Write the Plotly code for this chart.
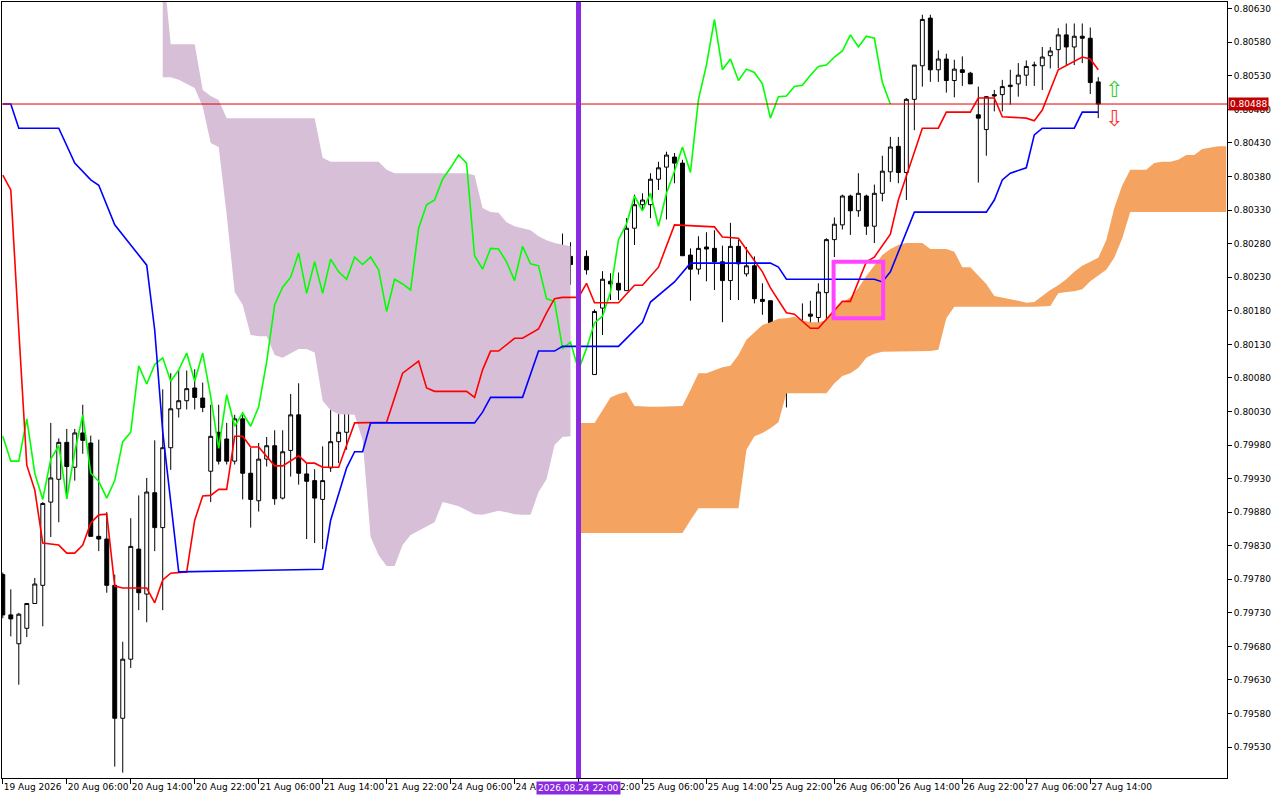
import plotly.graph_objects as go

# hourly bars, index 0 = 19 Aug 2026 22:00
opens = [
    .79787, .79727, .79684, .79707, .79744, .79771, .79895, .79929, .79984, .79947,
    .79998, .79983, .79844, .79840, .79771, .79573, .79661, .79825, .79758, .79909,
    .79857, .79976, .80034, .80046, .80065, .80050, .79941, .79999, .79989, .79956,
    .80019, .79938, .79897, .79959, .79979, .79901, .79972, .80025, .79937, .79927,
    .79899, .79946, .79985, .79999, .80097, .80071, .80100, .80110, .80075, .80090,
    .80137, .80073, .80117, .80055, .79977, .80013, .80008, .80028, .80008, .80038,
    .80103, .80188, .80215, .80231, .80268, .80206, .80253, .80206, .80257, .80237,
    .80227, .80261, .80249, .80261, .80085, .80184, .80224, .80221, .80210, .80303,
    .80338, .80338, .80376, .80394, .80409, .80400, .80263, .80242, .80275, .80273,
    .80253, .80225, .80276, .80235, .80247, .80197, .80195, .80124, .80071, .80077,
    .80126, .80175, .80170, .80207, .80286, .80308, .80351, .80329, .80351, .80306,
    .80355, .80387, .80425, .80386, .80495, .80545, .80616, .80539, .80555, .80523,
    .80539, .80534, .80472, .80450, .80502, .80502, .80514, .80518, .80531, .80545,
    .80545, .80560, .80569, .80591, .80573, .80589, .80586, .80521,
]
highs = [
    .79790, .79765, .79730, .79744, .79782, .79895, .80013, .79990, .80004, .80004,
    .80040, .79994, .79988, .79880, .79787, .79687, .79871, .79905, .79931, .79987,
    .80063, .80087, .80091, .80091, .80093, .80073, .80040, .80040, .80013, .80025,
    .80025, .79976, .79983, .79992, .80002, .80002, .80056, .80072, .79953, .79944,
    .79978, .80052, .80063, .80168, .80201, .80124, .80139, .80112, .80122, .80142,
    .80161, .80132, .80132, .80057, .80060, .80030, .80045, .80063, .80092, .80141,
    .80219, .80273, .80268, .80267, .80278, .80278, .80266, .80273, .80259, .80254,
    .80295, .80282, .80285, .80270, .80182, .80239, .80236, .80237, .80318, .80353,
    .80355, .80385, .80402, .80417, .80415, .80405, .80273, .80291, .80297, .80300,
    .80277, .80311, .80286, .80275, .80261, .80221, .80195, .80138, .80112, .80147,
    .80191, .80195, .80221, .80288, .80319, .80353, .80353, .80385, .80353, .80368,
    .80411, .80439, .80439, .80497, .80546, .80621, .80621, .80568, .80563, .80554,
    .80559, .80536, .80514, .80500, .80509, .80524, .80539, .80549, .80553, .80551,
    .80573, .80573, .80601, .80608, .80608, .80608, .80602, .80528,
]
lows = [
    .79722, .79695, .79623, .79694, .79744, .79710, .79843, .79865, .79900, .79927,
    .79967, .79843, .79822, .79760, .79501, .79492, .79648, .79734, .79716, .79822,
    .79734, .79943, .80021, .80033, .80033, .80029, .79895, .79951, .79951, .79951,
    .79899, .79857, .79881, .79948, .79891, .79899, .79933, .79921, .79840, .79834,
    .79825, .79940, .79953, .79973, .80055, .80056, .80084, .80072, .80067, .80067,
    .80057, .80057, .80052, .79968, .79960, .79980, .80005, .80005, .80008, .80025,
    .80067, .80166, .80197, .80196, .80107, .80147, .80164, .80164, .80186, .80181,
    .80219, .80219, .80235, .80234, .80085, .80144, .80196, .80196, .80210, .80278,
    .80330, .80318, .80360, .80316, .80370, .80262, .80195, .80234, .80224, .80211,
    .80163, .80196, .80196, .80231, .80191, .80174, .80112, .80075, .80036, .80077,
    .80126, .80146, .80153, .80161, .80260, .80301, .80293, .80320, .80293, .80281,
    .80343, .80372, .80370, .80345, .80449, .80514, .80521, .80521, .80505, .80498,
    .80515, .80518, .80371, .80411, .80477, .80477, .80487, .80499, .80515, .80515,
    .80509, .80541, .80541, .80546, .80546, .80549, .80503, .80467,
]
closes = [
    .79727, .79721, .79728, .79744, .79773, .79893, .79931, .79984, .79948, .79998,
    .79987, .79844, .79840, .79771, .79573, .79661, .79829, .79760, .79910, .79857,
    .79976, .80034, .80046, .80064, .80051, .80036, .79993, .79956, .79956, .80019,
    .79938, .79899, .79959, .79979, .79900, .79970, .80025, .79938, .79926, .79901,
    .79927, .79985, .79999, .80098, .80071, .80100, .80110, .80075, .80092, .80117,
    .80075, .80117, .80052, .79975, .80055, .80008, .80028, .80008, .80037, .80104,
    .80189, .80215, .80230, .80266, .80206, .80253, .80206, .80257, .80238, .80227,
    .80260, .80249, .80260, .80241, .80179, .80227, .80220, .80211, .80303, .80338,
    .80345, .80376, .80393, .80412, .80400, .80262, .80242, .80273, .80272, .80253,
    .80225, .80276, .80250, .80247, .80198, .80194, .80124, .80133, .80092, .80124,
    .80162, .80172, .80208, .80286, .80309, .80351, .80329, .80355, .80306, .80355,
    .80388, .80424, .80386, .80495, .80546, .80614, .80539, .80555, .80523, .80540,
    .80535, .80518, .80467, .80499, .80500, .80514, .80516, .80531, .80544, .80546,
    .80558, .80567, .80591, .80573, .80589, .80586, .80520, .80488,
]

# Tenkan-sen (red) vertices
tenkan_idx = [0, 1, 2, 3, 4, 5, 7, 8, 9, 10, 11, 12, 13, 14, 15, 18, 19, 20, 21, 23,
              24, 25, 26, 27, 28, 29, 30, 31, 32, 34, 35, 37, 38, 39, 40, 42, 44, 46, 48, 50,
              52, 53, 54, 58, 59, 60, 61, 62, 64, 65, 67, 68, 69, 70, 72, 73, 74, 77, 79, 80,
              82, 84, 89, 90, 92, 95, 96, 98, 99, 101, 102, 105, 106, 108, 109, 111, 112, 115, 117, 118,
              121, 122, 124, 125, 128, 129, 130, 132, 135, 136, 137]
tenkan_val = [.80382, .80360, .80151, .79950, .79913, .79834, .79831, .79819, .79819, .79831,
              .79864, .79876, .79877, .79770, .79767, .79767, .79745, .79779, .79789, .79791,
              .79868, .79904, .79905, .79914, .79914, .79993, .79993, .79977, .79977, .79949,
              .79949, .79964, .79953, .79953, .79947, .79947, .80013, .80013, .80014, .80087,
              .80105, .80065, .80060, .80060, .80051, .80092, .80120, .80120, .80139, .80139,
              .80153, .80177, .80198, .80200, .80200, .80221, .80192, .80192, .80218, .80218,
              .80245, .80308, .80305, .80290, .80288, .80238, .80214, .80177, .80175, .80154,
              .80154, .80194, .80194, .80253, .80260, .80294, .80345, .80452, .80452, .80476,
              .80476, .80497, .80497, .80469, .80467, .80463, .80479, .80539, .80558, .80555,
              .80539]

# Kijun-sen (blue) vertices
kijun_idx = [0, 1, 2, 7, 9, 11, 12, 14, 16, 18, 19, 20, 22, 40, 41, 43, 44, 45, 46, 59,
             60, 61, 65, 67, 69, 70, 77, 80, 81, 82, 84, 86, 96, 97, 98, 109, 110, 111, 114, 123,
             124, 125, 126, 128, 129, 130, 134, 135, 137]
kijun_val = [.80488, .80488, .80452, .80452, .80400, .80375, .80367, .80308, .80278, .80248,
             .80151, .80000, .79791, .79795, .79868, .79946, .79970, .79970, .80013, .80013,
             .80029, .80051, .80051, .80120, .80120, .80127, .80127, .80163, .80193, .80203,
             .80223, .80251, .80251, .80245, .80227, .80227, .80223, .80238, .80327, .80327,
             .80345, .80375, .80385, .80393, .80442, .80452, .80452, .80476, .80476]

# Senkou spans, bearish cloud (bars 20-71) then bullish cloud (bars 72-153)
bear_start = 20
bear_span_b = [.80700, .80577, .80577, .80577, .80577, .80509, .80500, .80494] + [.80467] * 12 + \
    [.80408] + [.80402] * 7 + [.80390] + [.80385] * 10 + \
    [.80382, .80333, .80327, .80326, .80312, .80306, .80303, .80300, .80291, .80285,
     .80281, .80278, .80276]
bear_span_a = [.80528, .80528, .80524, .80518, .80512, .80484, .80430, .80424, .80323, .80208,
               .80189, .80144, .80142, .80142, .80114, .80110, .80117, .80123, .80123, .80118,
               .80046, .80032, .80026, .80025, .80025, .79987, .79843, .79816, .79800, .79800,
               .79831, .79846, .79853, .79859, .79865, .79895, .79892, .79889, .79883, .79877,
               .79876, .79879, .79882, .79880, .79877, .79876, .79876, .79910, .79929, .79980,
               .79992, .79993]
bull_start = 72
bull_span_a = [.80013, .80013, .80013, .80032, .80051, .80056, .80059, .80038, .80037, .80037,
               .80037, .80037, .80037, .80038, .80062, .80087, .80087, .80092, .80096, .80098,
               .80114, .80137, .80148, .80159, .80163, .80168, .80169, .80171, .80166, .80163,
               .80163, .80166, .80181, .80192, .80200, .80214, .80232, .80248, .80263, .80272,
               .80278, .80281, .80281, .80281, .80272, .80272, .80272, .80268, .80245, .80245,
               .80233, .80220, .80202, .80200, .80198, .80195, .80192, .80193, .80202, .80211,
               .80218, .80227, .80238, .80247, .80253, .80259, .80285, .80333, .80367, .80390,
               .80390, .80390, .80400, .80402, .80402, .80405, .80412, .80412, .80421, .80423,
               .80425, .80425]
bull_span_b = [.79849] * 14 + [.79868] + [.79886] * 6 + \
    [.79973, .79993, .79998, .80005, .80014] + [.80057] * 6 + \
    [.80072, .80083, .80087, .80095, .80110, .80116, .80119] + [.80120] * 6 + \
    [.80122, .80169] + [.80186] * 12 + \
    [.80187, .80206, .80208, .80209, .80212, .80224, .80233, .80241, .80259, .80288] + [.80327] * 13

tick_idx = list(range(0, 137, 8))
tick_text = ["19 Aug 2026", "20 Aug 06:00", "20 Aug 14:00", "20 Aug 22:00", "21 Aug 06:00",
             "21 Aug 14:00", "21 Aug 22:00", "24 Aug 06:00", "24 Aug 14:00", "24 Aug 22:00",
             "25 Aug 06:00", "25 Aug 14:00", "25 Aug 22:00", "26 Aug 06:00", "26 Aug 14:00",
             "26 Aug 22:00", "27 Aug 06:00", "27 Aug 14:00"]
price_ticks = [round(0.79530 + 0.0005 * k, 5) for k in range(23)]
price_text = [f"{p:.5f}" for p in price_ticks]

last_price = closes[-1]
cursor_bar = 72
cursor_label = "2026.08.24 22:00"
box_bars = [103.9, 110.1]
box_prices = [0.80169, 0.80253]

bars = list(range(len(closes)))
fig = go.Figure()


def cloud(start, top, bottom, color):
    xs = list(range(start, start + len(top)))
    fig.add_trace(go.Scatter(x=xs + xs[::-1], y=top + bottom[::-1], fill="toself",
                             fillcolor=color, line=dict(width=0), mode="lines",
                             hoverinfo="skip", showlegend=False))


cloud(bear_start, bear_span_b, bear_span_a, "#D8BFD8")
cloud(bull_start, bull_span_a, bull_span_b, "#F4A460")

fig.add_trace(go.Candlestick(
    x=bars, open=opens, high=highs, low=lows, close=closes,
    increasing=dict(line=dict(color="black", width=1), fillcolor="white"),
    decreasing=dict(line=dict(color="black", width=1), fillcolor="black"),
    whiskerwidth=0, showlegend=False,
))

fig.add_trace(go.Scatter(x=[i - 26 for i in bars[26:]], y=closes[26:], mode="lines",
                         line=dict(color="#00FF00", width=1.6), showlegend=False))
fig.add_trace(go.Scatter(x=tenkan_idx, y=tenkan_val, mode="lines",
                         line=dict(color="#FF0000", width=1.6), showlegend=False))
fig.add_trace(go.Scatter(x=kijun_idx, y=kijun_val, mode="lines",
                         line=dict(color="#0000FF", width=1.6), showlegend=False))

fig.add_hline(y=last_price, line=dict(color="#E00000", width=1))
fig.add_vline(x=cursor_bar, line=dict(color="#8A2BE2", width=5))
fig.add_shape(type="rect", x0=box_bars[0], x1=box_bars[1], y0=box_prices[0], y1=box_prices[1],
              line=dict(color="#FF44FF", width=4))

fig.add_annotation(x=139, y=0.80510, text="⇧", showarrow=False,
                   font=dict(size=22, color="#33CC33"))
fig.add_annotation(x=139, y=0.80466, text="⇩", showarrow=False,
                   font=dict(size=22, color="#FF3333"))
fig.add_annotation(x=1, xref="paper", y=last_price, text=f"{last_price:.5f}", showarrow=False,
                   xanchor="left", xshift=1, bgcolor="#C00000", borderpad=1,
                   font=dict(color="white", size=9))
fig.add_annotation(x=cursor_bar, y=0, yref="paper", text=cursor_label, showarrow=False,
                   yanchor="top", yshift=-3, bgcolor="#8A2BE2", borderpad=1,
                   font=dict(color="white", size=9))

fig.update_layout(
    width=1280, height=800, autosize=False,
    margin=dict(l=2, r=53, t=2, b=22),
    paper_bgcolor="white", plot_bgcolor="white",
    font=dict(family="DejaVu Sans", size=9, color="black"),
    showlegend=False,
)
fig.update_xaxes(range=[-0.1, 153.1], tickvals=tick_idx, ticktext=tick_text, tickangle=0,
                 automargin=False, ticks="outside", ticklen=5, tickcolor="black",
                 ticklabelposition="outside right",
                 showgrid=False, zeroline=False, showline=True, linecolor="black", mirror=True,
                 rangeslider_visible=False, tickfont=dict(size=9))
fig.update_yaxes(range=[0.79484, 0.80640], side="right", tickvals=price_ticks, ticktext=price_text,
                 automargin=False, ticks="outside", ticklen=4, tickcolor="black",
                 showgrid=False, zeroline=False, showline=True, linecolor="black", mirror=True,
                 tickfont=dict(size=9))

fig.write_html("out.html", config={"displayModeBar": False},
               post_script="document.body.style.margin='0';")
